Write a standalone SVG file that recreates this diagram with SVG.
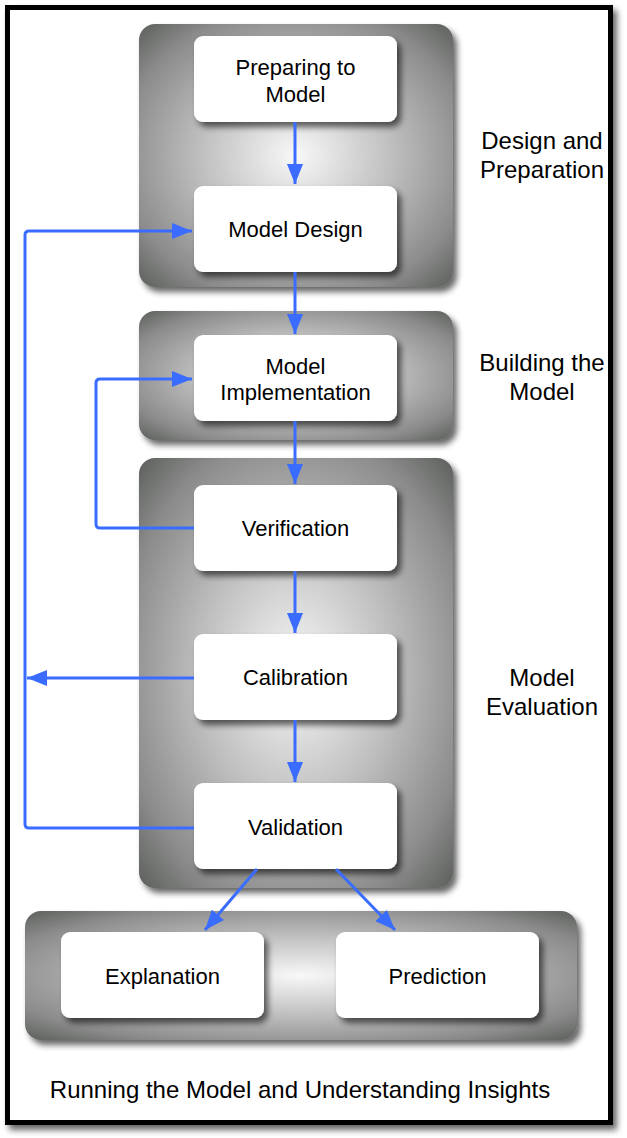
<svg xmlns="http://www.w3.org/2000/svg" width="627" height="1138" viewBox="0 0 627 1138">
<defs>
<radialGradient id="grp" cx="0.5" cy="0.5" r="0.7">
<stop offset="0" stop-color="#f8f8f8"/>
<stop offset="0.45" stop-color="#bdbdbd"/>
<stop offset="0.8" stop-color="#8a8b8a"/>
<stop offset="1" stop-color="#5e615e"/>
</radialGradient>
<filter id="sh" x="-10%" y="-10%" width="125%" height="125%">
<feGaussianBlur in="SourceAlpha" stdDeviation="3"/>
<feOffset dx="4" dy="5" result="b"/>
<feComponentTransfer><feFuncA type="linear" slope="0.6"/></feComponentTransfer>
<feMerge><feMergeNode/><feMergeNode in="SourceGraphic"/></feMerge>
</filter>
<marker id="ah" markerUnits="userSpaceOnUse" markerWidth="20" markerHeight="16" refX="20" refY="8" orient="auto" viewBox="0 0 20 16">
<path d="M0,0 L20,8 L0,16 z" fill="#3a6cff"/>
</marker>
</defs>
<style>
.grp{fill:url(#grp);filter:url(#sh)}
.node{fill:#ffffff;filter:url(#sh)}
.t{font-family:"Liberation Sans",Arial,sans-serif;font-size:22px;fill:#000;text-anchor:middle}
.l{font-size:24px}
.c{fill:none;stroke:#3a6cff;stroke-width:3}
.a{marker-end:url(#ah)}
</style>
<rect x="0" y="0" width="627" height="1138" fill="#ffffff"/>
<g id="frame">
<rect x="7.5" y="7.5" width="603" height="1115" fill="#ffffff" stroke="#000" stroke-width="5" filter="url(#sh)"/>
</g>
<g id="group-design">
<rect class="grp" x="139" y="24" width="314" height="263" rx="16"/>
<text class="t l" x="542" y="149">Design and</text>
<text class="t l" x="542" y="178">Preparation</text>
</g>
<g id="group-building">
<rect class="grp" x="139" y="311" width="314" height="129" rx="16"/>
<text class="t l" x="542" y="371">Building the</text>
<text class="t l" x="542" y="400">Model</text>
</g>
<g id="group-evaluation">
<rect class="grp" x="139" y="458" width="314" height="430" rx="16"/>
<text class="t l" x="542" y="686">Model</text>
<text class="t l" x="542" y="715">Evaluation</text>
</g>
<g id="group-running">
<rect class="grp" x="25" y="911" width="552" height="129" rx="16"/>
<text class="t l" x="300" y="1098">Running the Model and Understanding Insights</text>
</g>
<g id="node-preparing">
<rect class="node" x="194" y="36" width="203" height="86" rx="9"/>
<text class="t" x="295.5" y="75">Preparing to</text>
<text class="t" x="295.5" y="102">Model</text>
</g>
<g id="node-design">
<rect class="node" x="194" y="186" width="203" height="86" rx="9"/>
<text class="t" x="295.5" y="237">Model Design</text>
</g>
<g id="node-implementation">
<rect class="node" x="194" y="335" width="203" height="86" rx="9"/>
<text class="t" x="295.5" y="374">Model</text>
<text class="t" x="295.5" y="400">Implementation</text>
</g>
<g id="node-verification">
<rect class="node" x="194" y="485" width="203" height="86" rx="9"/>
<text class="t" x="295.5" y="536">Verification</text>
</g>
<g id="node-calibration">
<rect class="node" x="194" y="634" width="203" height="86" rx="9"/>
<text class="t" x="295.5" y="685">Calibration</text>
</g>
<g id="node-validation">
<rect class="node" x="194" y="783" width="203" height="86" rx="9"/>
<text class="t" x="295.5" y="835">Validation</text>
</g>
<g id="node-explanation">
<rect class="node" x="61" y="932" width="203" height="86" rx="9"/>
<text class="t" x="162.5" y="984">Explanation</text>
</g>
<g id="node-prediction">
<rect class="node" x="336" y="932" width="203" height="86" rx="9"/>
<text class="t" x="437.5" y="984">Prediction</text>
</g>
<g id="connectors">
<path class="c a" d="M295,122 L295,184"/>
<path class="c a" d="M295,272 L295,334"/>
<path class="c a" d="M295,421 L295,484"/>
<path class="c a" d="M295,571 L295,633"/>
<path class="c a" d="M295,720 L295,782"/>
<path class="c a" d="M194,528 L100,528 Q96,528 96,524 L96,383 Q96,379 100,379 L192,379"/>
<path class="c a" d="M194,828 L29,828 Q25,828 25,824 L25,235 Q25,231 29,231 L192,231"/>
<path class="c a" d="M194,678 L27,678"/>
<path class="c a" d="M257,869 L205,930"/>
<path class="c a" d="M336,869 L395,930"/>
</g>
</svg>
